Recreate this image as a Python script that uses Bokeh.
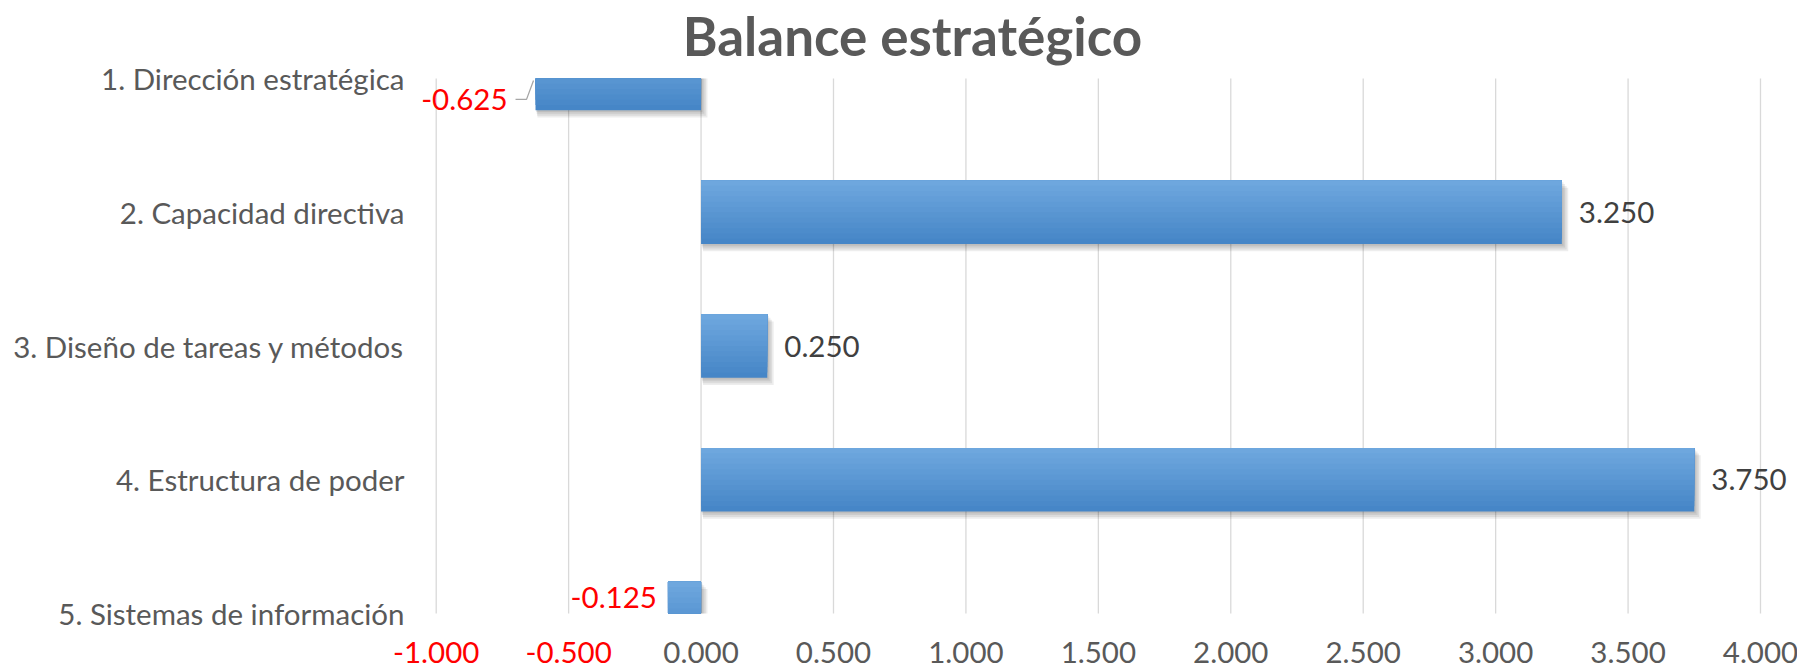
import numpy as np
from bokeh.plotting import figure
from bokeh.models import Range1d, FixedTicker, Label, LabelSet, ColumnDataSource
from bokeh.embed import file_html
from bokeh.resources import INLINE
from bokeh.core.properties import value

# ---------------- data ----------------
categories = [
    "1. Dirección estratégica",
    "2. Capacidad directiva",
    "3. Diseño de tareas y métodos",
    "4. Estructura de poder",
    "5. Sistemas de información",
]
values = [-0.625, 3.25, 0.25, 3.75, -0.125]
value_labels = ["-0.625", "3.250", "0.250", "3.750", "-0.125"]
x_ticks = [-1.0, -0.5, 0.0, 0.5, 1.0, 1.5, 2.0, 2.5, 3.0, 3.5, 4.0]
x_tick_labels = ["-1.000", "-0.500", "0.000", "0.500", "1.000", "1.500",
                 "2.000", "2.500", "3.000", "3.500", "4.000"]
title_text = "Balance estratégico"

# ---------------- style / layout ----------------
W, H = 1797, 668
FONT = "Lato"
GREY = "#595959"
DARK = "#404040"
RED = "#FF0000"
FS = "29.5px"
BAR_H = 0.475
X0, X1 = -1.0, 4.0
n = len(categories)
Y0, Y1 = 1.0, float(n)
FRAME_L = 385                      # left panel (category labels)
LABEL_RIGHT = 404                  # right edge of the category labels
PLOT_L, PLOT_R = 435.7, 1760.0     # canvas px of X0 / X1
PLOT_T, PLOT_B = 78.0, 613.0       # canvas px of first / last category
PX_X = (PLOT_R - PLOT_L) / (X1 - X0)
PX_Y = (PLOT_B - PLOT_T) / (Y1 - Y0)
TITLE_CX, TITLE_BASE = 912.0, 35.0
TICK_BASE = 662.0

p = figure(width=W, height=H, output_backend="svg", toolbar_location=None,
           title=None,
           x_range=Range1d(X0 - (PLOT_L - FRAME_L) / PX_X, X1 + (W - PLOT_R) / PX_X),
           y_range=Range1d(Y1 + (H - PLOT_B) / PX_Y, Y0 - PLOT_T / PX_Y),
           min_border_left=FRAME_L, min_border_right=0, min_border_top=0,
           min_border_bottom=0)
p.outline_line_color = None
p.background_fill_color = "white"
p.border_fill_color = "white"
p.grid.visible = False
p.xaxis.visible = False

# y axis with category names
ypos = np.arange(1, n + 1, dtype=float)
yax = p.yaxis[0]
yax.ticker = FixedTicker(ticks=list(ypos))
yax.major_label_overrides = {float(y): c for y, c in zip(ypos, categories)}
yax.axis_line_color = None
yax.major_tick_line_color = None
yax.minor_tick_line_color = None
yax.major_tick_out = 0
yax.major_tick_in = 0
yax.major_label_standoff = FRAME_L - LABEL_RIGHT
yax.major_label_text_font = FONT
yax.major_label_text_font_size = FS
yax.major_label_text_color = GREY

# vertical grid lines (only across the category span)
p.segment(x0=x_ticks, y0=[Y0] * len(x_ticks), x1=x_ticks, y1=[Y1] * len(x_ticks),
          line_color="#D9D9D9", line_width=1.3)

# x tick labels (negative ones in red), just below the last category
tick_src = ColumnDataSource(dict(
    x=x_ticks, y=[Y1] * len(x_ticks), text=x_tick_labels,
    color=[RED if t < 0 else GREY for t in x_ticks]))
p.add_layout(LabelSet(x="x", y="y", text="text", source=tick_src,
                      y_offset=-(TICK_BASE - PLOT_B),
                      text_align="center", text_baseline="alphabetic",
                      text_color="color", text_font=value(FONT),
                      text_font_size=FS))

# bars (clipped to the category span): shadow
vals = np.array(values)
left = np.minimum(vals, 0)
right = np.maximum(vals, 0)
top = ypos - BAR_H / 2
bot = ypos + BAR_H / 2
for k in range(1, 5):
    dx = 1.6 * k / PX_X
    dy = 1.8 * k / PX_Y
    p.quad(left=left + dx * 0.3, right=right + dx,
           top=np.clip(top + dy, Y0, Y1), bottom=np.clip(bot + dy, Y0, Y1),
           fill_color="black", fill_alpha=0.07, line_color=None)

# bars: vertical gradient
c_top = np.array([110, 167, 222])
c_bot = np.array([70, 134, 199])
N = 12
p.quad(left=left, right=right, top=np.clip(top, Y0, Y1), bottom=np.clip(bot, Y0, Y1),
       fill_color="#%02x%02x%02x" % tuple(c_bot), line_color=None)
for i in range(1, N):
    frac = 1 - i / N
    col = c_bot + (c_top - c_bot) * (i / (N - 1))
    p.quad(left=left, right=right, top=np.clip(top, Y0, Y1),
           bottom=np.clip(top + BAR_H * frac, Y0, Y1),
           fill_color="#%02x%02x%02x" % tuple(int(round(c)) for c in col),
           line_color=None)

# value labels (centre of the visible part of each bar)
lo = np.maximum(top, Y0)
hi = np.minimum(bot, Y1)
label_y = (lo + hi) / 2
x_off = [17 if v >= 0 else -11 for v in values]
x_off[0] = -28
y_off = [0] * len(values)
y_off[0] = -5
src = ColumnDataSource(dict(
    x=vals, y=label_y, text=value_labels, xo=x_off, yo=y_off,
    align=["left" if v >= 0 else "right" for v in values],
    color=[DARK if v >= 0 else RED for v in values],
))
p.add_layout(LabelSet(x="x", y="y", text="text", source=src, x_offset="xo",
                      y_offset="yo", text_align="align", text_baseline="middle",
                      text_color="color", text_font=value(FONT),
                      text_font_size=FS))

# leader line for the moved first label
v0 = values[0]
p.line(x=[v0 - 20 / PX_X, v0 - 9 / PX_X, v0 - 2 / PX_X],
       y=[label_y[0] + 5 / PX_Y, label_y[0] + 5 / PX_Y, Y0 + 2 / PX_Y],
       line_color="#A6A6A6", line_width=1.3)

# title
p.add_layout(Label(x=X0 + (TITLE_CX - PLOT_L) / PX_X,
                   y=Y0 - (PLOT_T - TITLE_BASE) / PX_Y,
                   text=title_text, text_align="center", text_baseline="alphabetic",
                   text_font=FONT, text_font_size="53px", text_font_style="bold",
                   text_color=GREY))

open("out.html", "w").write(file_html(p, INLINE))
